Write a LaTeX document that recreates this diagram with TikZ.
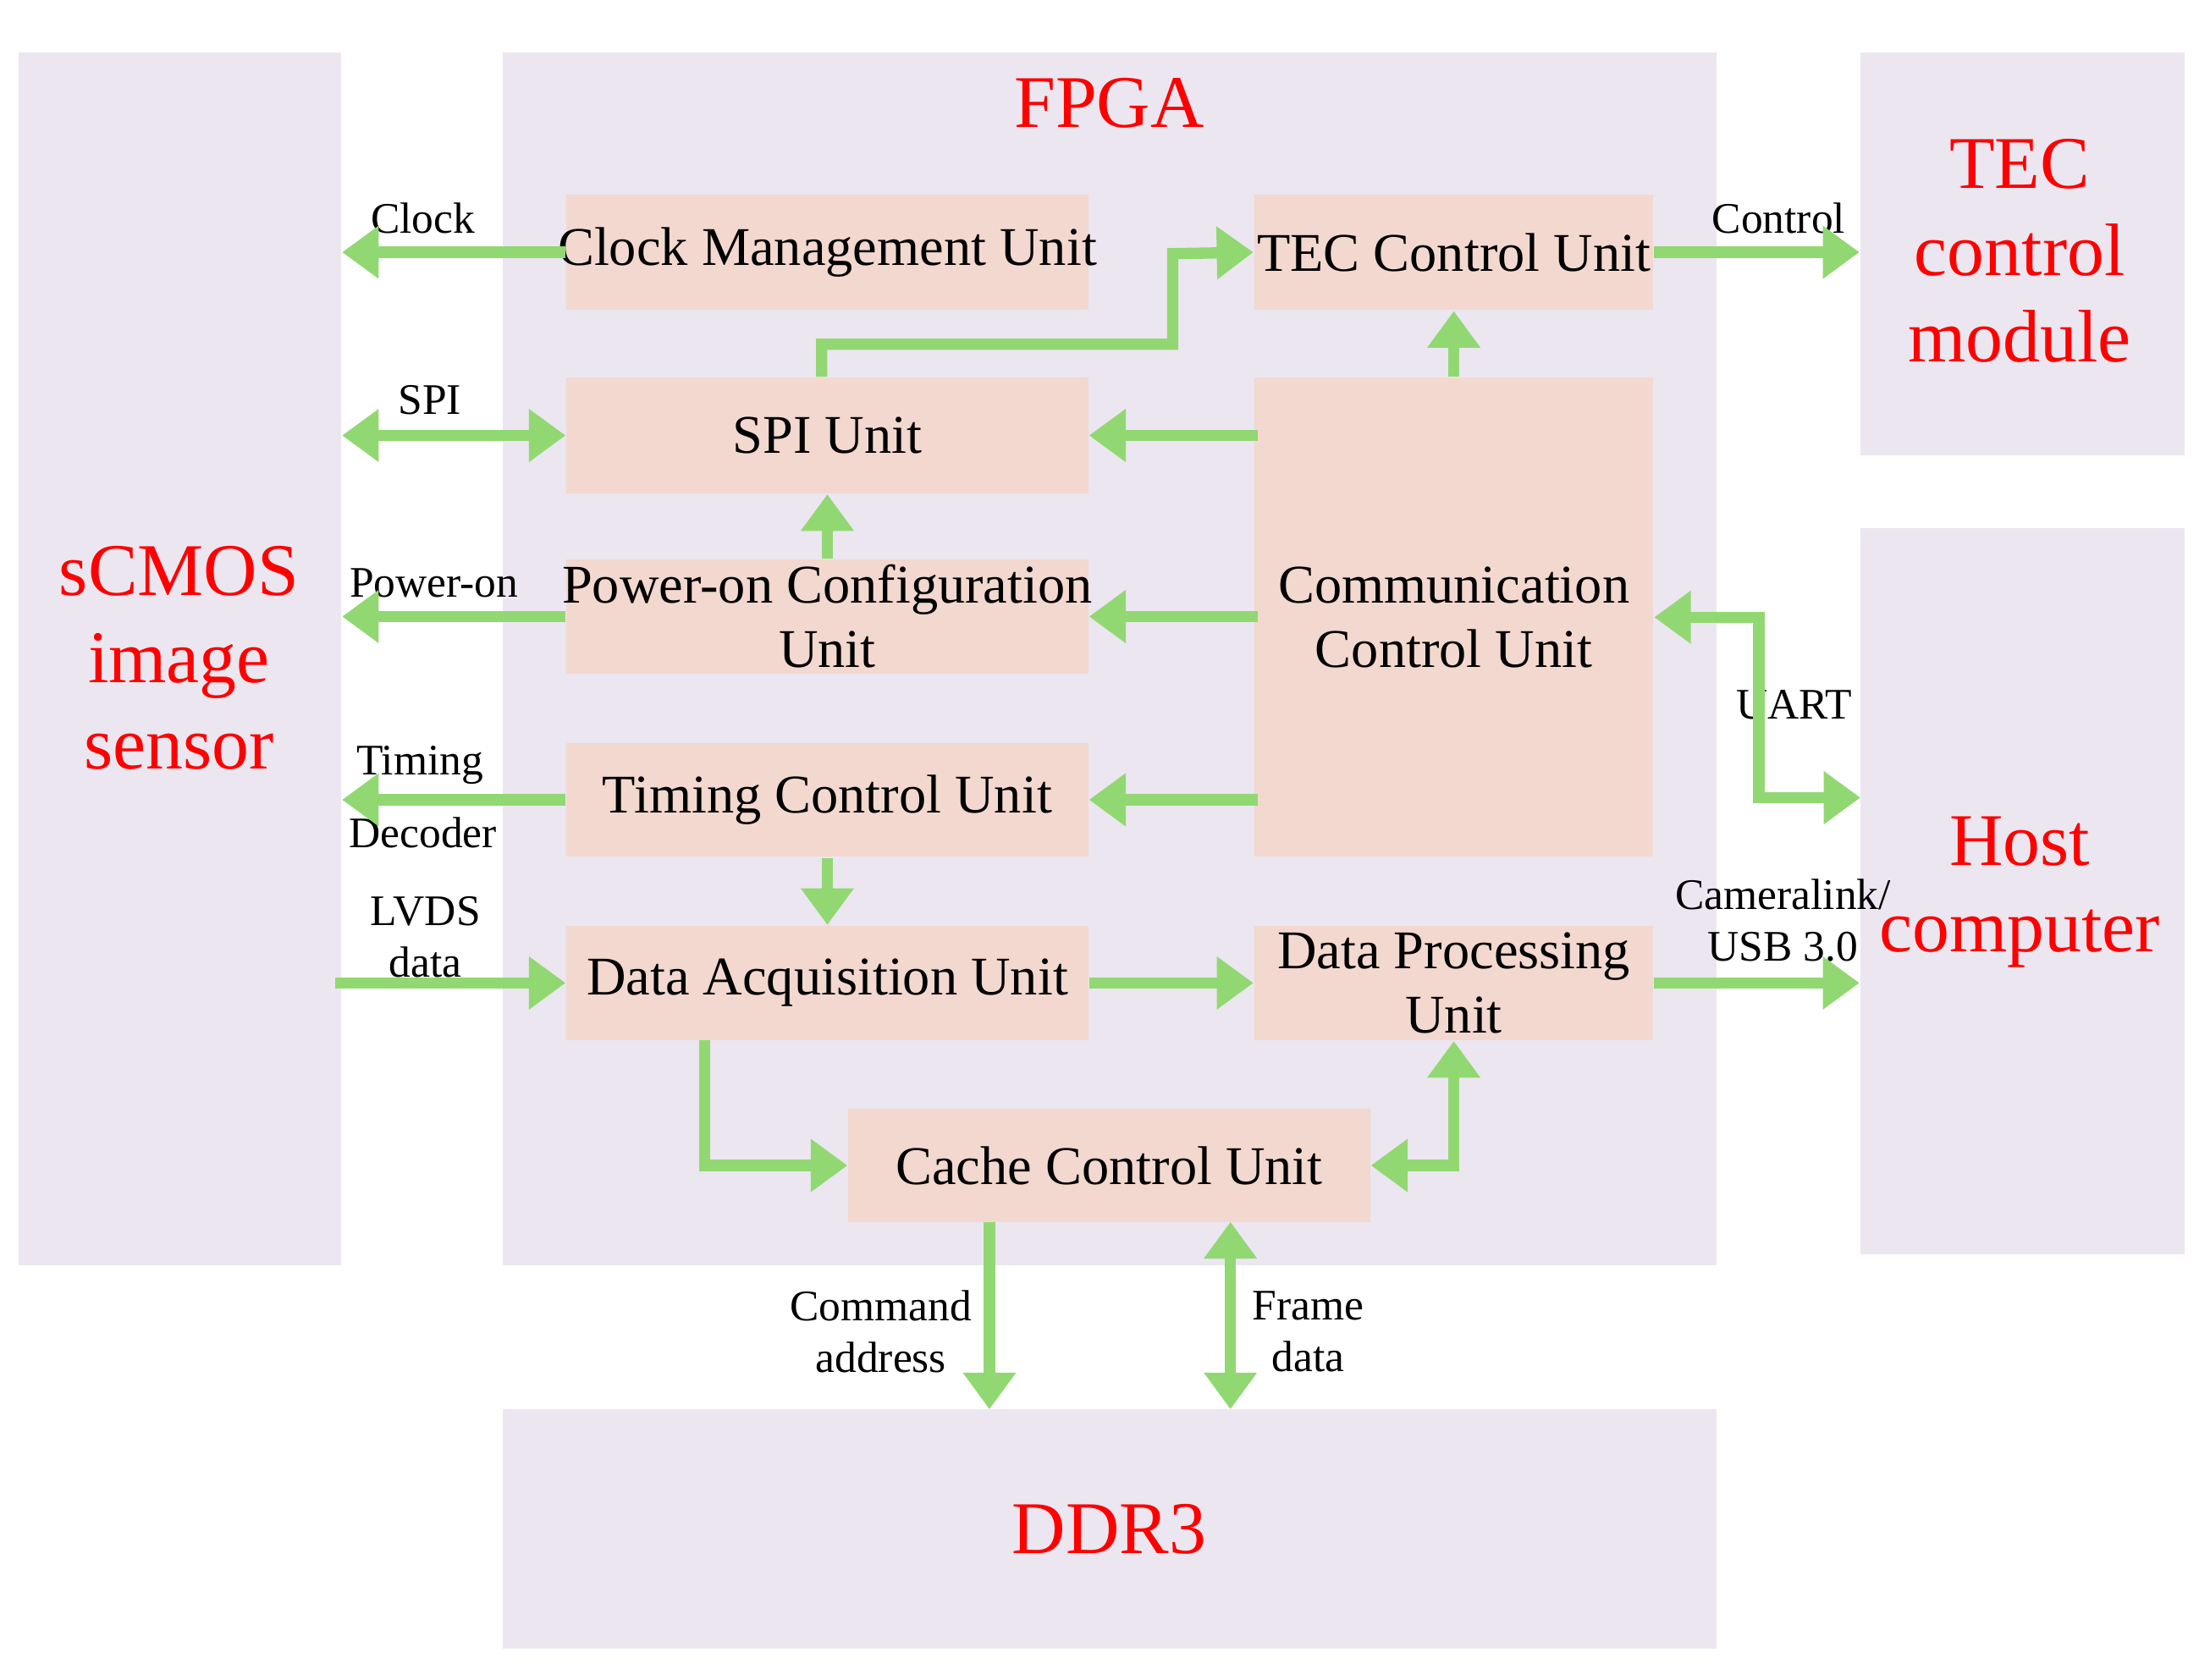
\documentclass[tikz,border=0pt]{standalone}
\usepackage{fontspec}
\setmainfont{Liberation Serif}
\usetikzlibrary{arrows.meta}
\definecolor{bg}{HTML}{EBE6F0}
\definecolor{pk}{HTML}{F2D8CF}
\definecolor{gr}{HTML}{92D872}
\tikzset{
 blk/.style={fill=bg,draw=none,inner sep=0},
 unit/.style={fill=pk,draw=none,inner sep=0,align=center,font=\fontsize{11}{13}\selectfont},
 red/.style={text=red,align=center,font=\fontsize{15}{17.5}\selectfont},
 lab/.style={align=center,font=\fontsize{8.8}{10.5}\selectfont},
 ar/.style={draw=gr,line width=0.08cm,-{Triangle[length=0.26cm,width=0.36cm]}},
 dar/.style={draw=gr,line width=0.08cm,{Triangle[length=0.26cm,width=0.36cm]}-{Triangle[length=0.26cm,width=0.36cm]}},
}
\newcommand{\bx}[6]{\node[#1,minimum width=#4*0.01cm-#2*0.01cm,minimum height=#5*0.01cm-#3*0.01cm] (#6) at ({(#2+#4)/2},{(#3+#5)/2}) {};}
\begin{document}
\begin{tikzpicture}[x=0.01cm,y=-0.01cm]
\useasboundingbox (0,0) rectangle (1568,1192);
\bx{blk}{13}{37}{242}{898}{scmos}
\bx{blk}{357}{37}{1218}{898}{fpga}
\bx{blk}{1320}{37}{1550}{323}{tecm}
\bx{blk}{1320}{375}{1550}{890}{host}
\bx{blk}{357}{1000}{1218}{1170}{ddr}
\bx{unit}{402}{138}{772}{220}{clk}
\bx{unit}{890}{138}{1173}{220}{tec}
\bx{unit}{402}{268}{772}{350}{spi}
\bx{unit}{890}{268}{1173}{608}{comm}
\bx{unit}{402}{397}{772}{478}{pwr}
\bx{unit}{402}{527}{772}{608}{tim}
\bx{unit}{402}{657}{772}{738}{acq}
\bx{unit}{890}{657}{1173}{738}{proc}
\bx{unit}{602}{787}{972}{867}{cache}
\node[unit,fill=none] (tclk) at (clk) {Clock Management Unit};
\node[unit,fill=none] (ttec) at (tec) {TEC Control Unit};
\node[unit,fill=none] (tspi) at (spi) {SPI Unit};
\node[unit,fill=none] (tcomm) at (comm) {Communication\\Control Unit};
\node[unit,fill=none] (tpwr) at (pwr) {Power-on Configuration\\Unit};
\node[unit,fill=none] (ttim) at (tim) {Timing Control Unit};
\node[unit,fill=none] (tacq) at (acq) {Data Acquisition Unit};
\node[unit,fill=none] (tproc) at (proc) {Data Processing\\Unit};
\node[unit,fill=none] (tcache) at (cache) {Cache Control Unit};
\node[red] (l1) at (787,73) {FPGA};
\node[red] (l2) at (1433,178) {TEC\\control\\module};
\node[red] (l3) at (127,467) {sCMOS\\image\\sensor};
\node[red] (l4) at (1433,633) {Host\\computer};
\node[red] (l5) at (787,1085) {DDR3};
\node[lab] (a1) at (300,155) {Clock};
\node[lab] (a2) at (305,284) {SPI};
\node[lab] (a3) at (308,414) {Power-on};
\node[lab] (a4) at (298,543) {Timing};
\node[lab] (a5) at (300,591) {Decoder};
\node[lab] (a6) at (302,665) {LVDS\\data};
\node[lab] (a7) at (1262,155) {Control};
\node[lab] (a8) at (1273,500) {UART};
\node[lab] (a9) at (1265,653) {Cameralink/\\USB 3.0};
\node[lab] (a10) at (625,945) {Command\\address};
\node[lab] (a11) at (928,945) {Frame\\data};
% connectors
\draw[ar] (clk.west) -- (clk.west -| scmos.east);
\draw[dar] (spi.west -| scmos.east) -- (spi.west);
\draw[ar] (pwr.west) -- (pwr.west -| scmos.east);
\draw[ar] (tim.west) -- (tim.west -| scmos.east);
\draw[ar] ([xshift=-0.05cm]acq.west -| scmos.east) -- (acq.west);
\draw[ar] ([xshift=-0.04cm]spi.north) -- ++(0,-23) -| (832,180) -- (tec.west);
\draw[ar] (tec.south |- comm.north) -- (tec.south);
\draw[ar] ([xshift=0.03cm]spi.east -| comm.west) -- (spi.east);
\draw[ar] (pwr.north) -- (spi.south);
\draw[ar] ([xshift=0.03cm]pwr.east -| comm.west) -- (pwr.east);
\draw[ar] ([xshift=0.03cm]tim.east -| comm.west) -- (tim.east);
\draw[ar] (tim.south) -- (acq.north);
\draw[ar] (acq.east) -- (proc.west);
\draw[ar] (500,738) |- (cache.west);
\draw[dar] (cache.east) -| (proc.south);
\draw[ar] (tec.east) -- (tec.east -| tecm.west);
\draw[dar] (comm.east) -| (1248,566) -- (1320,566);
\draw[ar] (proc.east) -- (proc.east -| host.west);
\draw[ar] (702,867) -- (702,1000);
\draw[dar] (873,867) -- (873,1000);
\end{tikzpicture}
\end{document}
